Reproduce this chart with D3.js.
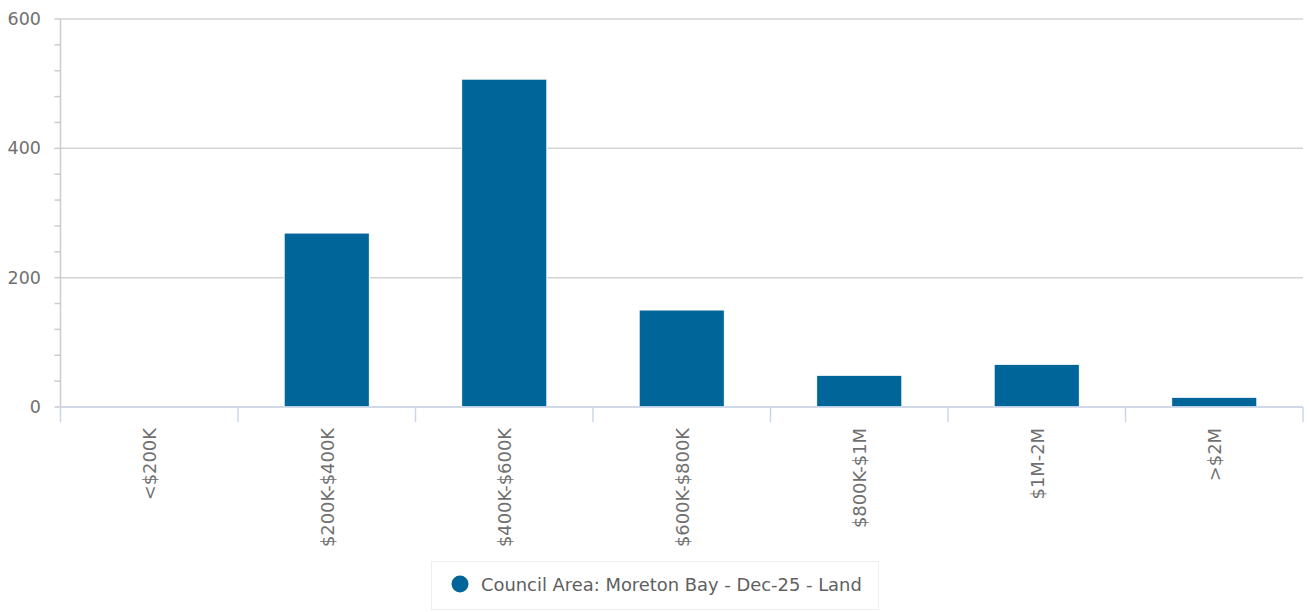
<!DOCTYPE html>
<html><head><meta charset="utf-8">
<script src="https://cdn.jsdelivr.net/npm/d3@7"></script>
<style>body{margin:0;background:#fff;font-family:"DejaVu Sans",sans-serif}</style>
</head><body>
<svg id="c" width="1309" height="612"></svg>
<script>
const categories = ["<$200K","$200K-$400K","$400K-$600K","$600K-$800K","$800K-$1M","$1M-2M",">$2M"];
const values = [0, 269, 507, 150, 49, 66, 15];
const yTicks = [0, 200, 400, 600];
const yMinorTicks = [40, 80, 120, 160, 240, 280, 320, 360, 440, 480, 520, 560];
const seriesName = "Council Area: Moreton Bay - Dec-25 - Land";

const svg = d3.select("#c");
const m = {l:60.5, r:1303, t:19, b:407};
const x = d3.scaleBand().domain(categories).range([m.l, m.r]).paddingInner(0).paddingOuter(0);
const y = d3.scaleLinear().domain([0,600]).range([m.b, m.t]);

// gridlines
svg.append("g").selectAll("line").data(yTicks).join("line")
  .attr("x1", m.l).attr("x2", m.r).attr("y1", d=>y(d)).attr("y2", d=>y(d))
  .attr("stroke", "#d3d3d3").attr("stroke-width", 1.5);

// y axis line
svg.append("line").attr("x1", m.l).attr("x2", m.l).attr("y1", m.t).attr("y2", m.b)
  .attr("stroke", "#cccccc").attr("stroke-width", 1.5);
// minor ticks
svg.append("g").selectAll("line").data(yMinorTicks).join("line")
  .attr("x1", m.l-6).attr("x2", m.l).attr("y1", d=>y(d)).attr("y2", d=>y(d))
  .attr("stroke", "#cccccc").attr("stroke-width", 1.5);
// major ticks
svg.append("g").selectAll("line").data(yTicks).join("line")
  .attr("x1", m.l-6).attr("x2", m.l).attr("y1", d=>y(d)).attr("y2", d=>y(d))
  .attr("stroke", "#cccccc").attr("stroke-width", 1.5);
// y labels
svg.append("g").selectAll("text").data(yTicks).join("text")
  .attr("x", 41).attr("y", d=>y(d)+6).attr("text-anchor","end")
  .attr("font-size", 17.5).attr("fill", "#707070").text(d=>d);

// bars
const bw = x.bandwidth()*0.48;
svg.append("g").selectAll("rect").data(values).join("rect")
  .attr("x", (d,i)=>x(categories[i]) + x.bandwidth()/2 - bw/2)
  .attr("width", bw)
  .attr("y", d=>y(d)).attr("height", d=>y(0)-y(d))
  .attr("fill", "#006699").attr("stroke", "#ffffff").attr("stroke-width", 1);

// x axis
svg.append("line").attr("x1", m.l).attr("x2", m.r).attr("y1", m.b).attr("y2", m.b)
  .attr("stroke", "#ccd6eb").attr("stroke-width", 1.5);
const bounds = categories.map(c=>x(c)).concat([m.r]);
svg.append("g").selectAll("line").data(bounds).join("line")
  .attr("x1", d=>d).attr("x2", d=>d).attr("y1", m.b).attr("y2", m.b+15)
  .attr("stroke", "#ccd6eb").attr("stroke-width", 1.5);
svg.append("g").selectAll("text").data(categories).join("text")
  .attr("transform", d=>`translate(${x(d)+x.bandwidth()/2+7},428) rotate(-90)`)
  .attr("text-anchor","end").attr("font-size", 17.9).attr("fill","#707070").text(d=>d);

// legend
const lg = svg.append("g");
lg.append("rect").attr("x", 431.5).attr("y", 561.5).attr("width", 447).attr("height", 48)
  .attr("fill","none").attr("stroke","#eeeeee").attr("stroke-width",1);
lg.append("circle").attr("cx", 460).attr("cy", 584).attr("r", 8.5).attr("fill", "#006699");
lg.append("text").attr("x", 481).attr("y", 591).attr("font-size", 17.9).attr("fill","#606060").text(seriesName);
</script>
</body></html>
